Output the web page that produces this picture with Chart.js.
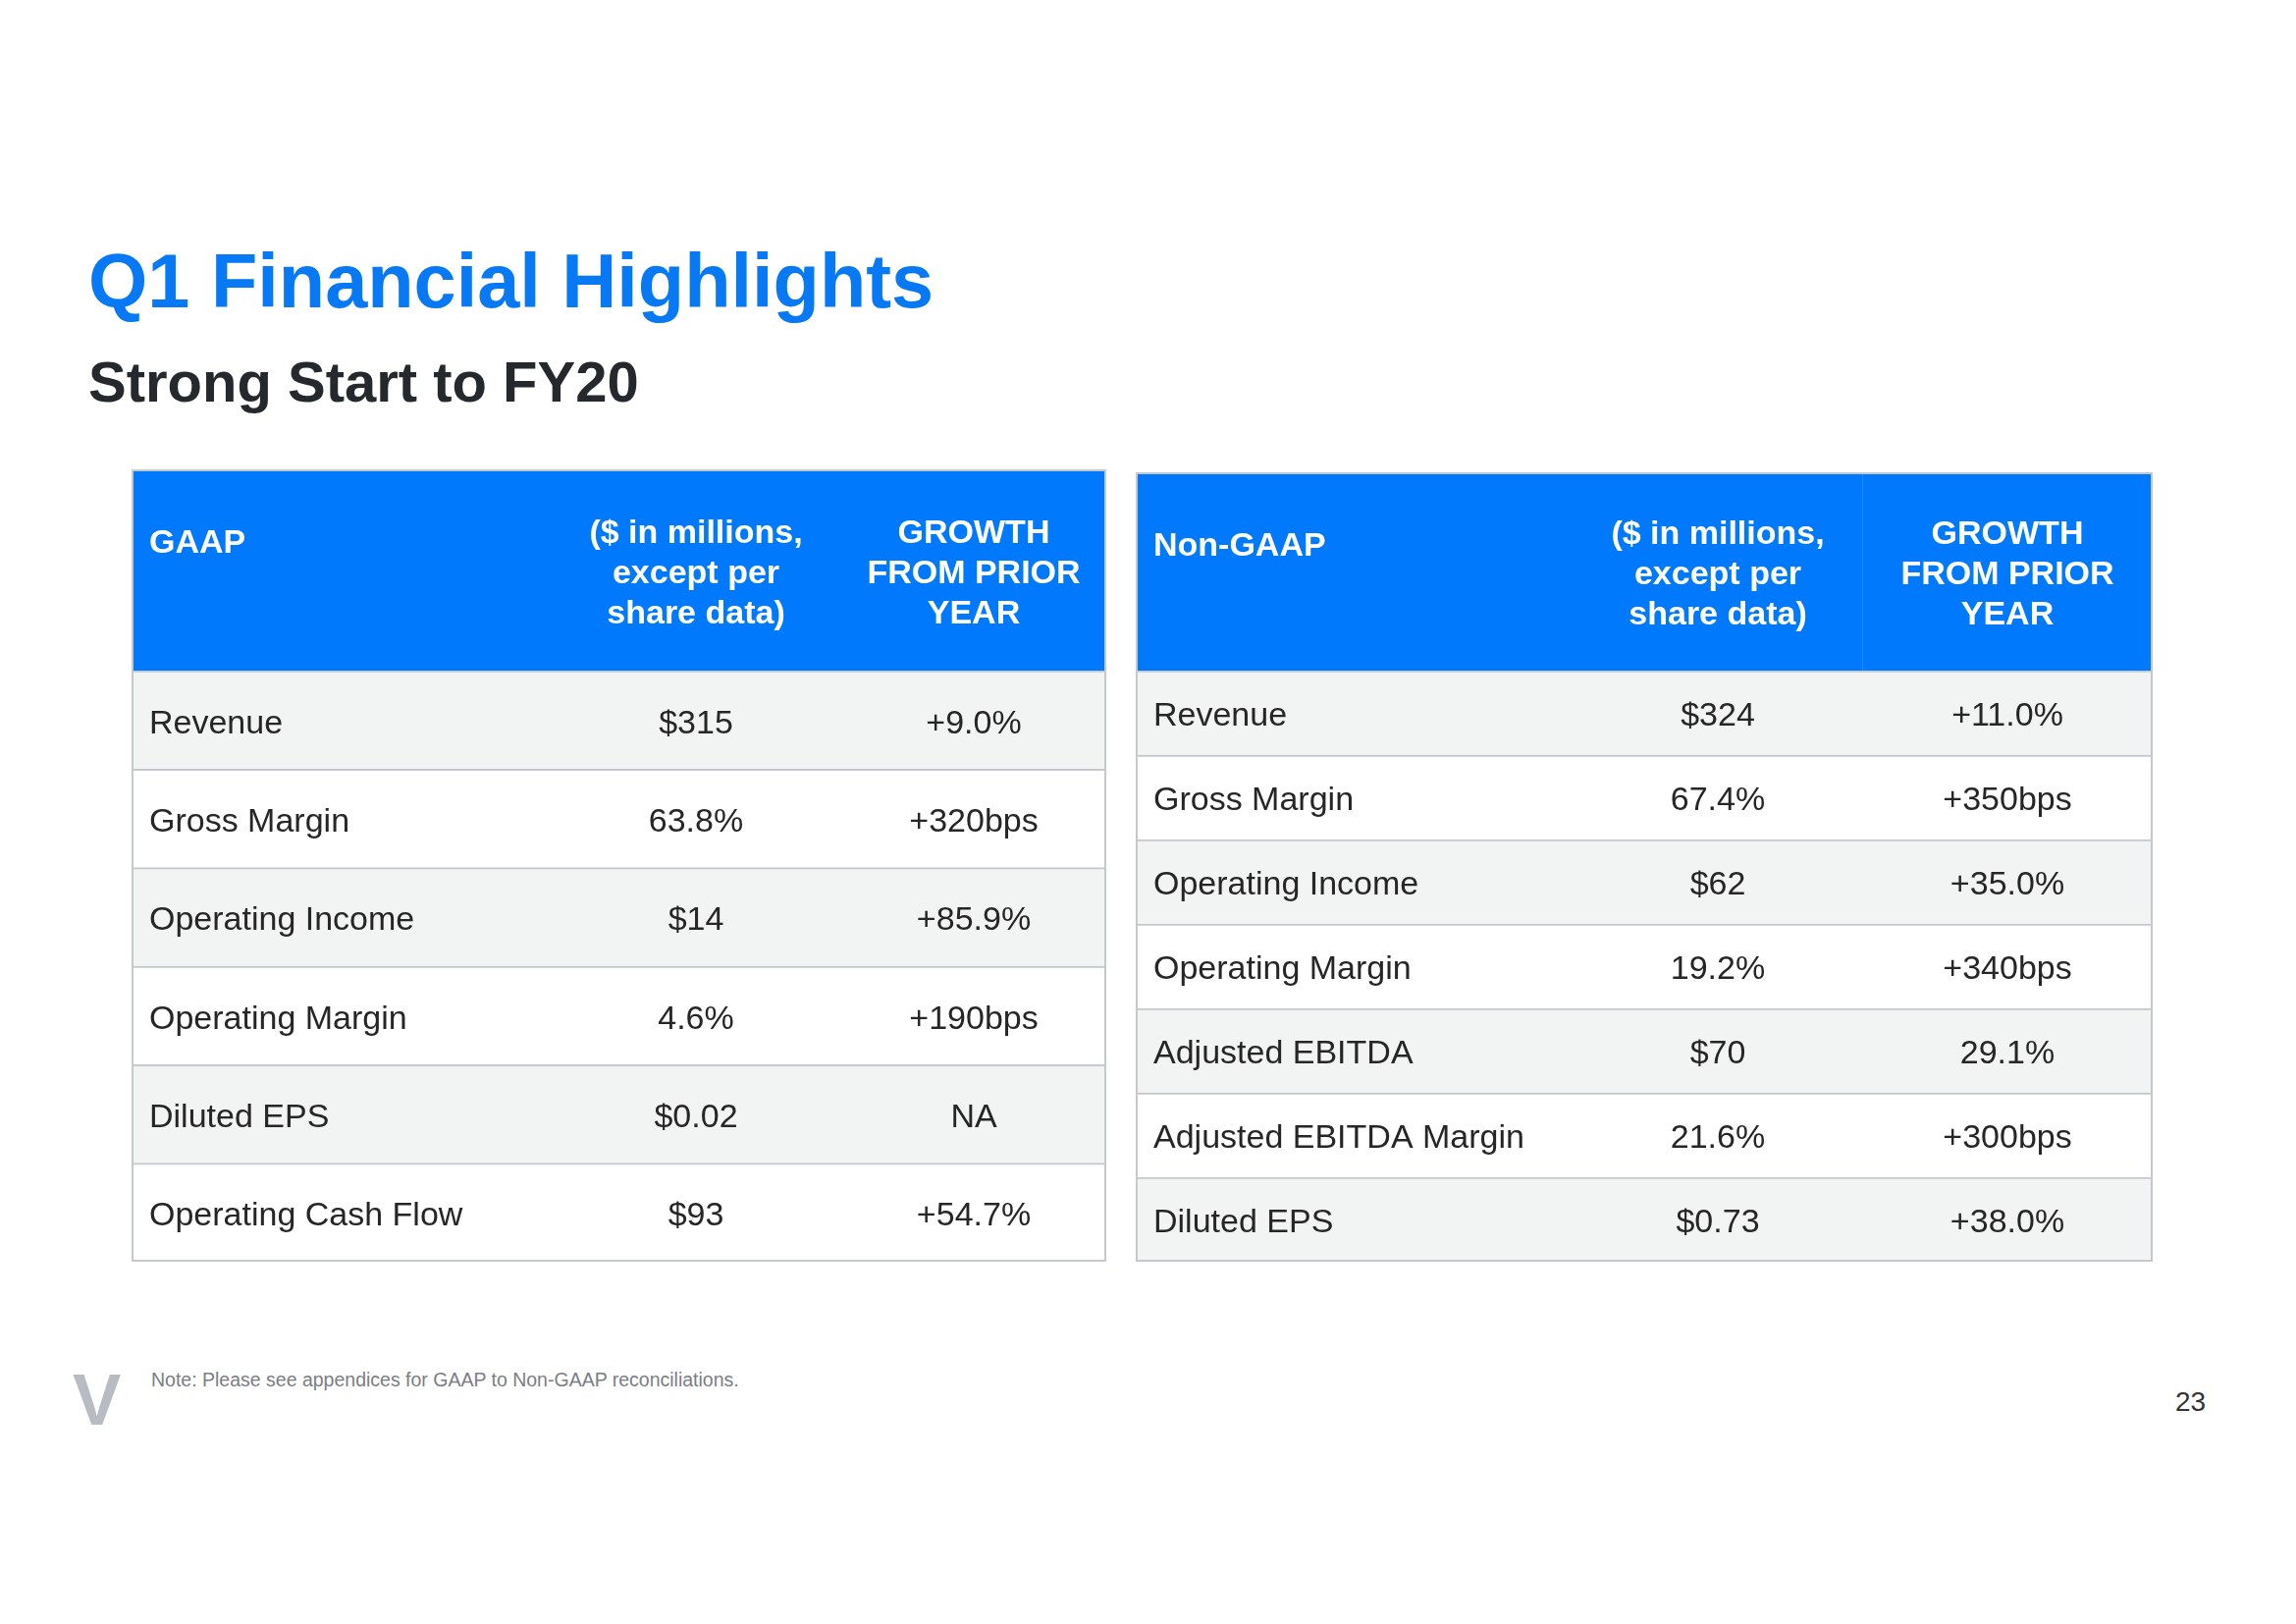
<!DOCTYPE html>
<html>
<head>
<meta charset="utf-8">
<script src="https://cdn.jsdelivr.net/npm/chart.js@4.4.1/dist/chart.umd.min.js"></script>
<style>
  body { margin: 0; background: #fff; font-family: "Liberation Sans", Arial, sans-serif; }
  #page { position: relative; width: 2339px; height: 1654px; overflow: hidden; background: #fff; }
  .abs { position: absolute; white-space: nowrap; line-height: 1; }
  #title { left: 90px; top: 248px; font-size: 77.5px; font-weight: bold; color: #0779f5; }
  #subtitle { left: 90px; top: 360px; font-size: 58px; font-weight: bold; color: #25282d; }
  #gaapWrap { left: 134px; top: 478px; }
  #nonGaapWrap { left: 1157px; top: 481px; }
  #logo { left: 74px; top: 1389px; font-size: 74px; font-weight: bold; color: #b8bcc2; }
  #note { left: 154px; top: 1396px; font-size: 19.5px; color: #7b7e83; }
  #pageNum { left: 2216px; top: 1414px; font-size: 28px; color: #333; }
</style>
</head>
<body>
<div id="page">
  <div id="title" class="abs">Q1 Financial Highlights</div>
  <div id="subtitle" class="abs">Strong Start to FY20</div>
  <div id="gaapWrap" class="abs"><canvas id="gaap" width="993" height="807"></canvas></div>
  <div id="nonGaapWrap" class="abs"><canvas id="nongaap" width="1036" height="804"></canvas></div>
  <div id="logo" class="abs">V</div>
  <div id="note" class="abs">Note: Please see appendices for GAAP to Non-GAAP reconciliations.</div>
  <div id="pageNum" class="abs">23</div>
</div>
<script>
// table data
const GAAP_ROWS = ['Revenue', 'Gross Margin', 'Operating Income', 'Operating Margin', 'Diluted EPS', 'Operating Cash Flow'];
const GAAP_VALUES = ['$315', '63.8%', '$14', '4.6%', '$0.02', '$93'];
const GAAP_GROWTH = ['+9.0%', '+320bps', '+85.9%', '+190bps', 'NA', '+54.7%'];

const NONGAAP_ROWS = ['Revenue', 'Gross Margin', 'Operating Income', 'Operating Margin', 'Adjusted EBITDA', 'Adjusted EBITDA Margin', 'Diluted EPS'];
const NONGAAP_VALUES = ['$324', '67.4%', '$62', '19.2%', '$70', '21.6%', '$0.73'];
const NONGAAP_GROWTH = ['+11.0%', '+350bps', '+35.0%', '+340bps', '29.1%', '+300bps', '+38.0%'];

const UNITS_HEADER = ['($ in millions,', 'except per', 'share data)'];
const GROWTH_HEADER = ['GROWTH', 'FROM PRIOR', 'YEAR'];

const BLUE = '#0179fd';
const GRAY_ROW = '#f2f3f3';
const LINE = '#c5c8cc';
const LINE_H = 41;
const TEXT_NUDGE = 4; // canvas 'middle' sits a bit high vs the slide
const FONT = '"Liberation Sans", Arial, sans-serif';

const tableText = {
  id: 'tableText',
  afterDatasetsDraw(chart) {
    const ctx = chart.ctx;
    ctx.save();
    chart.data.datasets.forEach((ds, di) => {
      const meta = chart.getDatasetMeta(di);
      meta.data.forEach((bar, i) => {
        const p = bar.getProps(['x', 'y', 'base', 'height'], true);
        const left = Math.min(p.x, p.base), right = Math.max(p.x, p.base);
        const lines = [].concat(ds.cellText[i]);
        ctx.fillStyle = ds.textColor;
        ctx.font = ds.textFont;
        ctx.textBaseline = 'middle';
        let x;
        if (ds.textAlign === 'left') {
          ctx.textAlign = 'left';
          x = left + 18;
        } else {
          ctx.textAlign = 'center';
          x = (left + right) / 2;
        }
        let y0 = p.y - (lines.length - 1) * LINE_H / 2;
        if (ds.anchorTop) y0 = p.y - p.height / 2 + ds.anchorTop;
        lines.forEach((t, k) => ctx.fillText(t, x, y0 + k * LINE_H + TEXT_NUDGE));
      });
    });
    // outer frame
    const a = chart.chartArea;
    ctx.strokeStyle = LINE;
    ctx.lineWidth = 2;
    ctx.strokeRect(a.left + 1, a.top + 1, a.width - 2, a.height - 2);
    ctx.restore();
  }
};

function makeTable(canvasId, title, rows, values, growth, cols, headH, divider) {
  const texts = [rows, values, growth];
  const headTexts = [[title], UNITS_HEADER, GROWTH_HEADER];
  const datasets = [];
  for (let c = 0; c < 3; c++) {
    datasets.push({
      yAxisID: 'yh',
      data: [[cols[c], cols[c + 1]]],
      backgroundColor: BLUE,
      borderColor: '#4d9cff',
      borderWidth: (divider && c === 2) ? {left: 1, top: 0, right: 0, bottom: 0} : 0,
      borderSkipped: false,
      grouped: false,
      barPercentage: 1,
      categoryPercentage: 1,
      cellText: [headTexts[c]],
      textColor: '#ffffff',
      textFont: 'bold 34px ' + FONT,
      textAlign: c === 0 ? 'left' : 'center',
      anchorTop: c === 0 ? 72 : 0
    });
  }
  for (let c = 0; c < 3; c++) {
    datasets.push({
      yAxisID: 'yb',
      data: rows.map(() => [cols[c], cols[c + 1]]),
      backgroundColor: rows.map((_, i) => i % 2 === 0 ? GRAY_ROW : '#ffffff'),
      borderColor: LINE,
      borderWidth: {top: 2, left: 0, right: 0, bottom: 0},
      borderSkipped: false,
      grouped: false,
      barPercentage: 1,
      categoryPercentage: 1,
      cellText: texts[c],
      textColor: '#262626',
      textFont: '34px ' + FONT,
      textAlign: c === 0 ? 'left' : 'center'
    });
  }
  const canvas = document.getElementById(canvasId);
  return new Chart(canvas, {
    type: 'bar',
    data: {labels: rows, datasets: datasets},
    options: {
      indexAxis: 'y',
      responsive: false,
      animation: false,
      devicePixelRatio: 1,
      layout: {padding: 0},
      plugins: {legend: {display: false}, tooltip: {enabled: false}, title: {display: false}},
      scales: {
        x: {type: 'linear', min: 0, max: cols[3], stacked: false, display: false},
        yh: {
          type: 'category', labels: ['header'], position: 'left', stack: 'tbl',
          stackWeight: headH, weight: 2, offset: true, display: false
        },
        yb: {
          type: 'category', labels: rows, position: 'left', stack: 'tbl',
          stackWeight: canvas.height - headH, weight: 1, offset: true, display: false
        }
      }
    },
    plugins: [tableText]
  });
}

makeTable('gaap', 'GAAP', GAAP_ROWS, GAAP_VALUES, GAAP_GROWTH, [0, 427, 723, 993], 205, false);
makeTable('nongaap', 'Non-GAAP', NONGAAP_ROWS, NONGAAP_VALUES, NONGAAP_GROWTH, [0, 446, 740, 1036], 202, true);
</script>
</body>
</html>
